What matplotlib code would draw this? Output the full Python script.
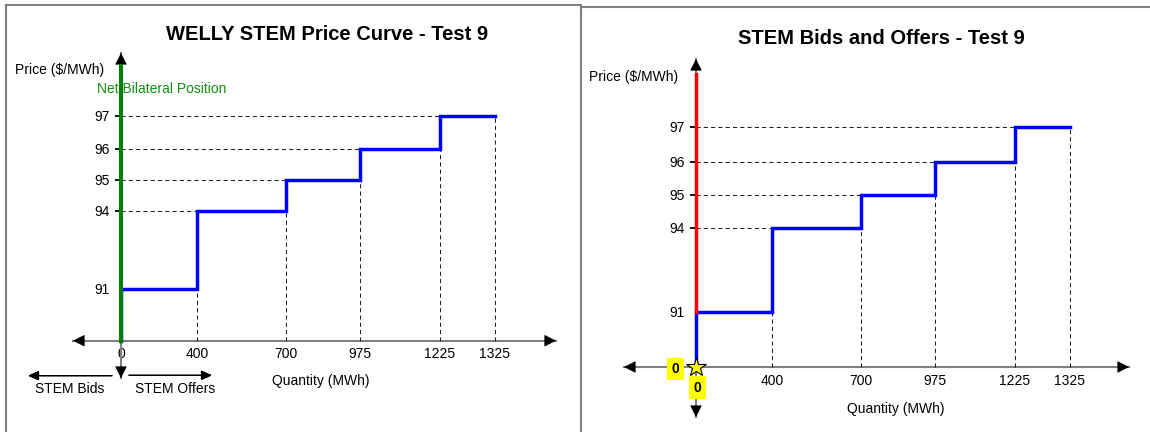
import numpy as np
import matplotlib
matplotlib.use('Agg')
import matplotlib.pyplot as plt
from matplotlib.lines import Line2D

plt.rcParams['font.family'] = ['Liberation Sans', 'DejaVu Sans']

# ---------------- data ----------------
QUANTITIES = [0, 400, 700, 975, 1225, 1325]   # MWh step break points
PRICES = [91, 94, 95, 96, 97]                 # $/MWh of each step
X_TICKS = [0, 400, 700, 975, 1225, 1325]
Y_TICKS = [91, 94, 95, 96, 97]
NET_BILATERAL = 0
CLEARING_QTY = 0
CLEARING_PRICE = 0
TITLE_L = 'WELLY STEM Price Curve - Test 9'
TITLE_R = 'STEM Bids and Offers - Test 9'

# ---------------- schematic (non-linear) scale definition ----------------
X_SCALE_PTS = ([0, 400, 700, 975, 1225, 1325], [0, 76, 165, 239, 318.5, 373.6])
Y_SCALE_PTS = ([0, 91, 94, 95, 96, 97], [0, 51.4, 130, 160.7, 192, 224.4])


def piecewise(src, dst):
    src = np.asarray(src, float)
    dst = np.asarray(dst, float)
    s0 = (dst[1] - dst[0]) / (src[1] - src[0])
    s1 = (dst[-1] - dst[-2]) / (src[-1] - src[-2])

    def f(v):
        v = np.asarray(v, float)
        return np.where(v < src[0], dst[0] + (v - src[0]) * s0,
                        np.where(v > src[-1], dst[-1] + (v - src[-1]) * s1,
                                 np.interp(v, src, dst)))
    return f


fx = piecewise(*X_SCALE_PTS)
ix = piecewise(X_SCALE_PTS[1], X_SCALE_PTS[0])
fy = piecewise(*Y_SCALE_PTS)
iy = piecewise(Y_SCALE_PTS[1], Y_SCALE_PTS[0])

W, H = 1150, 432
fig = plt.figure(figsize=(W / 100, H / 100), dpi=100)

GRAY = '#808080'
FS = 10


def ftext(x, y, s, **kw):
    fig.text(x / W, 1 - y / H, s, **kw)


def fline(x0, y0, x1, y1, **kw):
    fig.add_artist(Line2D([x0 / W, x1 / W], [1 - y0 / H, 1 - y1 / H],
                          transform=fig.transFigure, **kw))


def farrow(x0, y0, x1, y1):
    fig.add_artist(plt.annotate('', xy=(x1, H - y1), xycoords='figure pixels',
                                xytext=(x0, H - y0), textcoords='figure pixels',
                                arrowprops=dict(arrowstyle='-|>,head_length=0.8,head_width=0.35',
                                                mutation_scale=8, color='black', lw=0.9,
                                                shrinkA=0, shrinkB=0)))


def make_axes(left, right, top, bottom, x0px, y0px, yk):
    ax = fig.add_axes([left / W, 1 - bottom / H, (right - left) / W, (bottom - top) / H])
    ax.set_xscale('function', functions=(fx, ix))
    ax.set_yscale('function', functions=(fy, iy))
    ax.set_xlim(float(ix(left - x0px)), float(ix(right - x0px)))
    ax.set_ylim(float(iy((y0px - bottom) / yk)), float(iy((y0px - top) / yk)))
    ax.set_autoscale_on(False)
    ax.axis('off')
    return ax


def draw_common(ax):
    dash = dict(color='#222222', lw=0.75, ls=(0, (4, 3)), zorder=2)
    for i, p in enumerate(PRICES):
        if i > 0:
            ax.plot([0, QUANTITIES[i]], [p, p], **dash)
        ax.plot([QUANTITIES[i + 1]] * 2, [0, p], **dash)
    ax.plot([0] * (len(Y_TICKS) - 1), Y_TICKS[1:], ls='none', marker=0, ms=4,
            mew=1.3, color='black', zorder=2)
    # step curve
    sx, sy = [QUANTITIES[0]], [0]
    for i, p in enumerate(PRICES):
        sx += [QUANTITIES[i], QUANTITIES[i + 1]]
        sy += [p, p]
    ax.plot(sx, sy, color='#0000FF', lw=2.5, solid_joinstyle='miter', zorder=4)
    # axes lines with arrows
    yt = ax.get_yaxis_transform()
    xt = ax.get_xaxis_transform()
    ax.plot([0, 1], [0, 0], transform=yt, color=GRAY, lw=1.5, zorder=1, clip_on=False)
    ax.plot([0, 0], [0, 1], transform=xt, color=GRAY, lw=1.5, zorder=1, clip_on=False)
    ap = dict(arrowstyle='-|>,head_length=0.75,head_width=0.38', mutation_scale=10,
              color='black', lw=0.5, shrinkA=0, shrinkB=0)
    ax.annotate('', xy=(1, 0), xycoords=yt, xytext=(-11, 0), textcoords='offset pixels', arrowprops=ap)
    ax.annotate('', xy=(0, 0), xycoords=yt, xytext=(11, 0), textcoords='offset pixels', arrowprops=ap)
    ax.annotate('', xy=(0, 1), xycoords=xt, xytext=(0, -11), textcoords='offset pixels', arrowprops=ap)
    ax.annotate('', xy=(0, 0), xycoords=xt, xytext=(0, 11), textcoords='offset pixels', arrowprops=ap)
    # tick labels
    for v in Y_TICKS:
        ax.annotate(str(v), xy=(0, v), xytext=(-11, -5), textcoords='offset pixels',
                    ha='right', va='baseline', fontsize=FS)


def frac_y(ax, y):
    return ax.transAxes.inverted().transform(ax.transData.transform((0, y)))[1]


# ---------------- left panel ----------------
fline(5.5, 5, 5.5, 432, color=GRAY, lw=1.5)
fline(5.5, 5, 581, 5, color=GRAY, lw=1.5)
axL = make_axes(73, 556, 53, 378, 121, 340.7, 1.0)
draw_common(axL)
for q in X_TICKS:
    axL.annotate(str(q), xy=(q, 0), xytext=(0, -17.6), textcoords='offset pixels',
                 ha='center', va='baseline', fontsize=FS, zorder=0)
axL.axvline(NET_BILATERAL, ymin=frac_y(axL, 0), ymax=(378 - 66) / 325, color='#008000',
            lw=2.9, zorder=5)
ftext(327, 39.5, TITLE_L, ha='center', va='baseline', fontsize=14.5, fontweight='bold')
ftext(15, 74, 'Price ($/MWh)', ha='left', va='baseline', fontsize=FS)
ftext(97, 93, 'Net Bilateral Position', ha='left', va='baseline', fontsize=FS, color='#119011')
ftext(321, 385, 'Quantity (MWh)', ha='center', va='baseline', fontsize=FS)
ftext(70, 393, 'STEM Bids', ha='center', va='baseline', fontsize=FS)
ftext(175, 393, 'STEM Offers', ha='center', va='baseline', fontsize=FS)
farrow(112, 375.7, 28, 375.7)
farrow(129, 375.3, 212, 375.3)

# ---------------- right panel ----------------
fline(581, 7, 581, 432, color=GRAY, lw=1.5)
fline(581, 7, 1150, 7, color=GRAY, lw=1.5)
axR = make_axes(624, 1129, 59, 417, 696, 367, 1.07)
draw_common(axR)
for q in X_TICKS[1:]:
    axR.annotate(str(q), xy=(q, 0), xytext=(0, -18), textcoords='offset pixels',
                 ha='center', va='baseline', fontsize=FS)
axR.axvline(NET_BILATERAL, ymin=frac_y(axR, PRICES[0]), ymax=(417 - 74) / 358,
            color='#FF0000', lw=2.5, zorder=5)
axR.plot(CLEARING_QTY, CLEARING_PRICE, marker='*', ms=15, mfc='#FFFF00', mec='black',
         mew=0.8, zorder=7, clip_on=False)
box = dict(boxstyle='square,pad=0.3', fc='#FFFF00', ec='none')
axR.annotate(str(CLEARING_PRICE), xy=(CLEARING_QTY, CLEARING_PRICE), xytext=(-20.5, -2),
             textcoords='offset pixels', ha='center', va='center', fontsize=FS,
             fontweight='bold', bbox=box, zorder=8)
axR.annotate(str(CLEARING_QTY), xy=(CLEARING_QTY, CLEARING_PRICE), xytext=(1.5, -20.5),
             textcoords='offset pixels', ha='center', va='center', fontsize=FS,
             fontweight='bold', bbox=box, zorder=8)
ftext(881.5, 44, TITLE_R, ha='center', va='baseline', fontsize=14.5, fontweight='bold')
ftext(589, 81, 'Price ($/MWh)', ha='left', va='baseline', fontsize=FS)
ftext(896, 413, 'Quantity (MWh)', ha='center', va='baseline', fontsize=FS)

fig.savefig('out.png', dpi=100)
